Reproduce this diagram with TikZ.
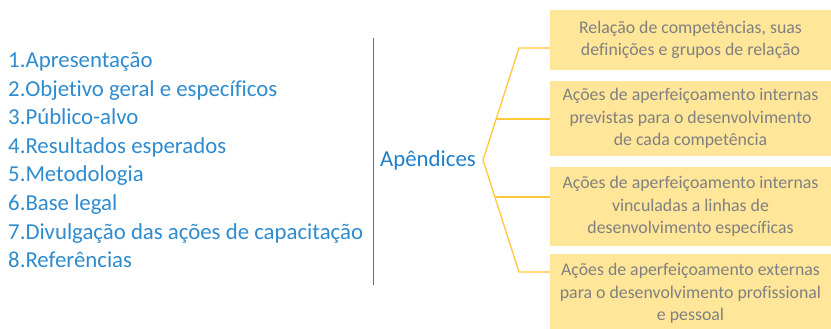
\documentclass[tikz,border=0pt]{standalone}
\usepackage{fontspec}
\setmainfont{Carlito}[Ligatures=NoCommon]
\usetikzlibrary{positioning,calc}
\definecolor{itemblue}{HTML}{2E8BCE}
\definecolor{headblue}{HTML}{1E7FCB}
\definecolor{rulecol}{HTML}{4A72C0}
\definecolor{boxgold}{HTML}{FFE699}
\definecolor{linegold}{HTML}{FFC83A}
\definecolor{boxtext}{HTML}{808080}

\begin{document}
\begin{tikzpicture}[x=1pt,y=-1pt]

\tikzset{
  itemlabel/.style={font=\fontsize{22.8}{26}\selectfont, text=itemblue,
                  anchor=base west, inner sep=0pt},
  headlabel/.style={font=\fontsize{22.8}{26}\selectfont, text=headblue,
                  anchor=base west, inner sep=0pt},
  appbox/.style={fill=boxgold, text=boxtext, align=center,
                  font=\fontsize{17.8}{22.3}\selectfont,
                  minimum width=281pt, inner sep=0pt},
  separator/.style={rulecol, line width=0.8pt},
  branch/.style={linegold, line width=1.3pt, line join=round}
}

\useasboundingbox (0,0) rectangle (831,329);

% List of sections
\node[itemlabel] (i1) at (8, 67.5) {1.Apresentação};
\node[itemlabel] (i2) at (8, 96.1) {2.Objetivo geral e específicos};
\node[itemlabel] (i3) at (8, 124.7) {3.Público-alvo};
\node[itemlabel] (i4) at (8, 153.3) {4.Resultados esperados};
\node[itemlabel] (i5) at (8, 181.9) {5.Metodologia};
\node[itemlabel] (i6) at (8, 210.5) {6.Base legal};
\node[itemlabel] (i7) at (8, 239.1) {7.Divulgação das ações de capacitação};
\node[itemlabel] (i8) at (8, 267.7) {8.Referências};

% Separator
\draw[separator] (373, 38) -- (373, 285);

% Appendices
\node[headlabel] (app) at (380, 167) {Apêndices};

\node[appbox, minimum height=60pt] (a1) at (690.5, 40)
  {Relação de competências, suas\\definições e grupos de relação};
\node[appbox, minimum height=75pt] (a2) at (690.5, 118.5)
  {Ações de aperfeiçoamento internas\\previstas para o desenvolvimento\\de cada competência};
\node[appbox, minimum height=79pt] (a3) at (690.5, 206.5)
  {Ações de aperfeiçoamento internas\\vinculadas a linhas de\\desenvolvimento específicas};
\node[appbox, minimum height=79pt] (a4) at (690.5, 293.5)
  {Ações de aperfeiçoamento externas\\para o desenvolvimento profissional\\e pessoal};

% Bracket
\coordinate (tip) at (483, 160);
\coordinate (top) at (519, 48);
\coordinate (bot) at (519, 272);
\coordinate (b2) at ($(tip)!0.366!(top)$);
\coordinate (b3) at ($(tip)!0.330!(bot)$);

\draw[branch] (a1.west |- top) -- (top) -- (tip) -- (bot) -- (a4.west |- bot);
\draw[branch] (b2) -- (a2.west |- b2);
\draw[branch] (b3) -- (a3.west |- b3);

\end{tikzpicture}
\end{document}
